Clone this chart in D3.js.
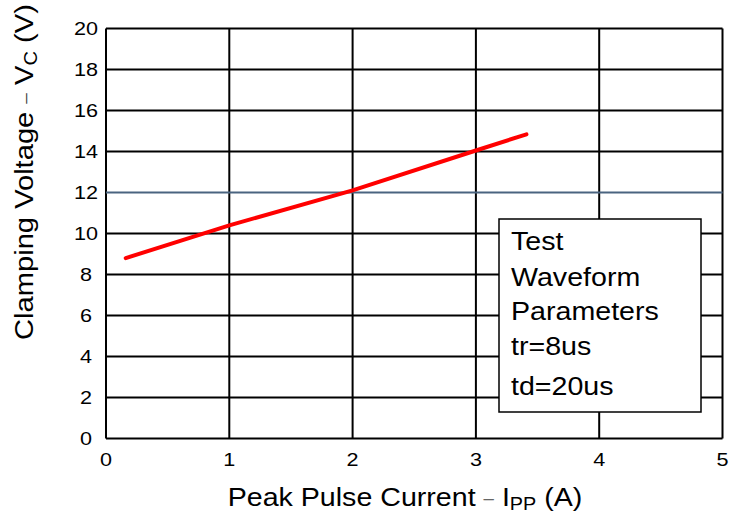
<!DOCTYPE html>
<html><head><meta charset="utf-8">
<script src="https://cdn.jsdelivr.net/npm/d3@7"></script>
<style>body{margin:0;background:#fff}svg{display:block;font-family:"Liberation Sans",Arial,sans-serif}</style>
</head><body><svg id="c" width="742" height="517"></svg>
<script>
const xTicks = [0,1,2,3,4,5];
const yTicks = [0,2,4,6,8,10,12,14,16,18,20];
const currentA = [0.16, 1.0, 2.0, 3.0, 3.41];
const clampV = [8.8, 10.4, 12.1, 14.05, 14.84];
const refLevel = [12];
const legendLines = ["Test","Waveform","Parameters","tr=8us","td=20us"];

const svg = d3.select("#c");
const L=106, R=722.5, T=28.5, B=438.5;
const x = d3.scaleLinear().domain([0,5]).range([L,R]);
const y = d3.scaleLinear().domain([0,20]).range([B,T]);
const SX = 1.2;

// grid
svg.append("g").selectAll("line").data(xTicks).join("line")
  .attr("x1",d=>x(d)).attr("x2",d=>x(d)).attr("y1",T).attr("y2",B)
  .attr("stroke","#000").attr("stroke-width",2);
svg.append("g").selectAll("line").data(yTicks.filter(v=>!refLevel.includes(v))).join("line")
  .attr("x1",L).attr("x2",R).attr("y1",d=>y(d)).attr("y2",d=>y(d))
  .attr("stroke","#000").attr("stroke-width",2);
svg.append("g").selectAll("line").data(refLevel).join("line")
  .attr("x1",L).attr("x2",R).attr("y1",d=>y(d)).attr("y2",d=>y(d))
  .attr("stroke","#4a6480").attr("stroke-width",2);

// tick labels
svg.append("g").selectAll("text").data(yTicks).join("text")
  .attr("transform",d=>`translate(86,${y(d)+6.5}) scale(${SX},1)`).attr("text-anchor","middle")
  .attr("font-size",18).text(d=>d);
svg.append("g").selectAll("text").data(xTicks).join("text")
  .attr("transform",d=>`translate(${x(d)},${B+27.5}) scale(${SX},1)`).attr("text-anchor","middle")
  .attr("font-size",18).text(d=>d);

// data line
const pts = currentA.map((a,i)=>[a,clampV[i]]);
svg.append("path").datum(pts)
  .attr("d",d3.line().x(d=>x(d[0])).y(d=>y(d[1])))
  .attr("fill","none").attr("stroke","#ff0000").attr("stroke-width",4).attr("stroke-linecap","round");

// legend box
const bx=499, by=219, bw=202, bh=193;
svg.append("rect").attr("x",bx).attr("y",by).attr("width",bw).attr("height",bh)
  .attr("fill","#fff").attr("stroke","#000").attr("stroke-width",1.5);
const base=[250,286,320,355,395];
svg.append("g").selectAll("text").data(legendLines).join("text")
  .attr("transform",(d,i)=>`translate(511,${base[i]}) scale(1.1,1)`).attr("font-size",26).text(d=>d);

// x title
const xt = svg.append("text").attr("transform","translate(405,506) scale(1.1,1)").attr("text-anchor","middle").attr("font-size",26);
xt.append("tspan").text("Peak Pulse Current ");
xt.append("tspan").attr("fill","#666").attr("font-size",17).attr("dy",-2).text("–");
xt.append("tspan").attr("dy",2).text(" I");
xt.append("tspan").attr("font-size",18).attr("dy",4).text("PP");
xt.append("tspan").attr("dy",-4).text(" (A)");

// y title
const yt = svg.append("text").attr("transform","translate(33,172) rotate(-90) scale(1.12,1)").attr("text-anchor","middle").attr("font-size",26);
yt.append("tspan").text("Clamping Voltage ");
yt.append("tspan").attr("fill","#444").attr("font-size",17).attr("dy",-2).text("–");
yt.append("tspan").attr("dy",2).text(" V");
yt.append("tspan").attr("font-size",18).attr("dy",4).text("C");
yt.append("tspan").attr("dy",-4).text(" (V)");
</script></body></html>
